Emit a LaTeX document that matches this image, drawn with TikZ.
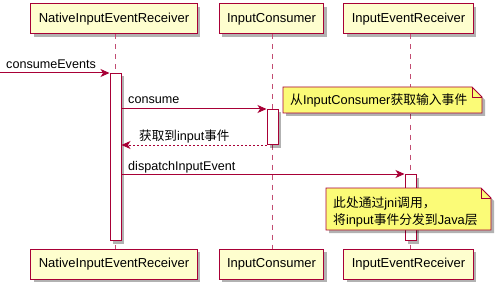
\documentclass[tikz,border=0pt]{standalone}
\usepackage{fontspec}
\setmainfont{Liberation Sans}
\newfontfamily\cjk{Noto Sans CJK SC}
\usepackage{tikz}
\usetikzlibrary{arrows.meta,shadows,positioning}
\definecolor{umlred}{HTML}{A80036}
\definecolor{umlbox}{HTML}{FEFECE}
\definecolor{umlnote}{HTML}{FBFB77}
\tikzset{
  softshadow/.style={
    drop shadow={shadow xshift=3pt,shadow yshift=-3pt,fill=black,opacity=.3}}}
\tikzset{
  participant/.style={
    draw=umlred,fill=umlbox,line width=1pt,softshadow,
    minimum height=30pt,inner xsep=8pt,
    font=\fontsize{13}{15}\selectfont}}
\tikzset{
  lifeline/.style={umlred!70,line width=1pt,dash pattern=on 5pt off 5pt}}
\tikzset{
  actbar/.style={
    draw=umlred,fill=white,line width=1pt,softshadow,
    minimum width=11pt,inner sep=0pt,anchor=north}}
\tikzset{
  msg/.style={umlred,line width=1pt,-{Stealth[length=9pt,width=8pt,inset=2.5pt]}},
  reply/.style={msg,dash pattern=on 2pt off 2pt},
  msglabel/.style={anchor=base west,inner sep=0pt,font=\fontsize{12.6}{15}\selectfont},
  notebox/.style={draw=umlred,fill=umlnote,line width=.8pt,softshadow},
  notetext/.style={anchor=base west,inner sep=0pt,align=left,
    font=\fontsize{12.8}{17}\selectfont}
}

\begin{document}
\begin{tikzpicture}[x=1pt,y=-1pt]
    \useasboundingbox[fill=white] (0,0) rectangle (500,294);
    % participants, top and bottom
    \node[participant] (nativeTop) at (114,19) {NativeInputEventReceiver};
    \node[participant] (consumerTop) at (271.5,19) {InputConsumer};
    \node[participant] (receiverTop) at (408.5,19) {InputEventReceiver};
    \node[participant] (nativeBot) at (114,264) {NativeInputEventReceiver};
    \node[participant] (consumerBot) at (271.5,264) {InputConsumer};
    \node[participant] (receiverBot) at (408.5,264) {InputEventReceiver};
    \draw[lifeline] ([xshift=1pt]nativeTop.south) -- ([xshift=1pt]nativeBot.north);
    \draw[lifeline] ([xshift=1pt]consumerTop.south) -- ([xshift=1pt]consumerBot.north);
    \draw[lifeline] ([xshift=1.5pt]receiverTop.south) -- ([xshift=1.5pt]receiverBot.north);
    % activations
    \node[actbar,minimum height=167pt] (nativeAct) at (115.5,73) {};
    \node[actbar,minimum height=35pt] (consumerAct) at (272.5,109) {};
    \node[actbar,minimum height=66pt] (receiverAct) at (410.5,174) {};
    % messages
    \coordinate (caller) at (0,73);
    \draw[msg] (caller) -- (caller -| nativeAct.west);
    \node[msglabel] (consumeEvents) at (6,69) {consumeEvents};
    \draw[msg] (nativeAct.east |- consumerAct.north) -- (consumerAct.north west);
    \node[msglabel] (consume) at (128,104) {consume};
    \draw[reply] (consumerAct.south west) -- (nativeAct.east |- consumerAct.south);
    \node[msglabel] (gotInput) at (139,140) {{\cjk 获取到}input{\cjk 事件}};
    \draw[msg] (nativeAct.east |- receiverAct.north) -- (receiverAct.north west);
    \node[msglabel] (dispatch) at (128,170) {dispatchInputEvent};
    % notes
    \path[notebox] (283,87) -- (472,87) -- (482,97) -- (482,113) -- (283,113) -- cycle;
    \draw[umlred,line width=.8pt] (472,87) -- (472,97) -- (482,97);
    \node[notetext] (noteConsume) at (290,105) {{\cjk 从}InputConsumer{\cjk 获取输入事件}};
    \path[notebox] (326,188) -- (481,188) -- (491,198) -- (491,230) -- (326,230) -- cycle;
    \draw[umlred,line width=.8pt] (481,188) -- (481,198) -- (491,198);
    \node[notetext] (noteJni) at (333,224) {{\cjk 此处通过}jni{\cjk 调用，}\\{\cjk 将}input{\cjk 事件分发到}Java{\cjk 层}};
\end{tikzpicture}
\end{document}
